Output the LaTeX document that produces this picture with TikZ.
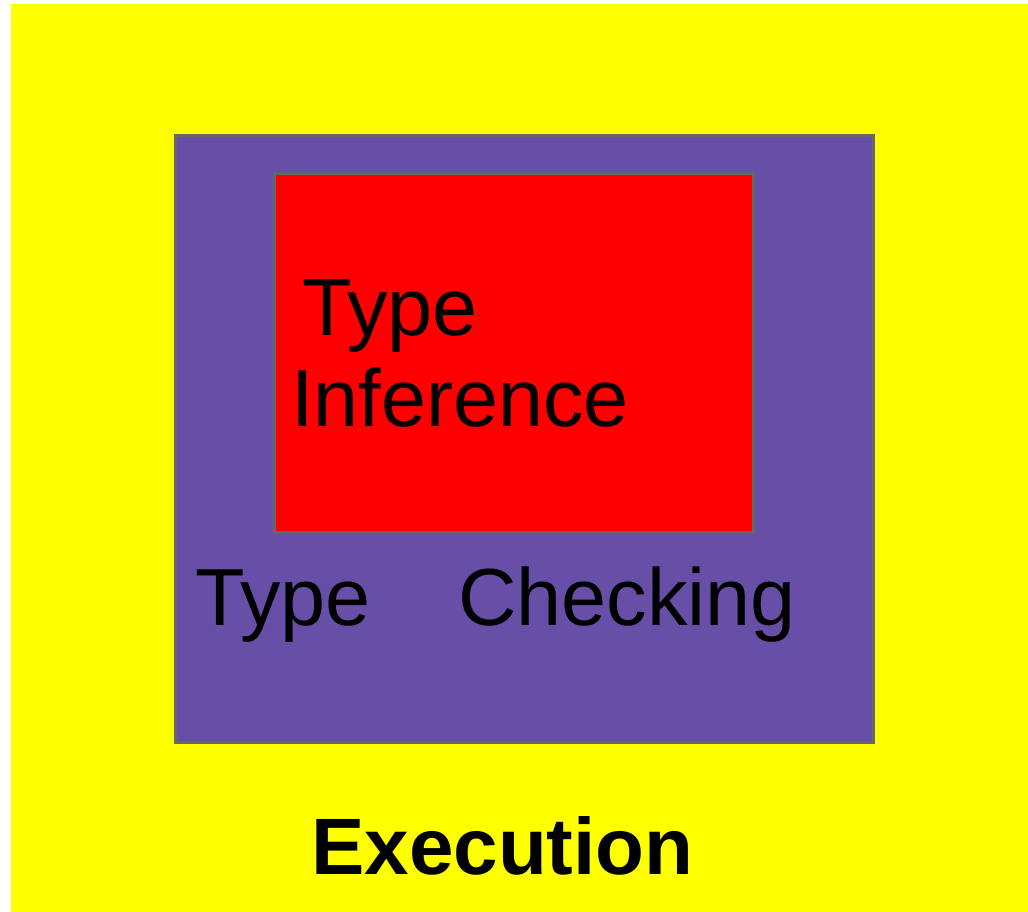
\documentclass[tikz,border=0pt]{standalone}
\usepackage{fontspec}
\setmainfont{Liberation Sans}
\definecolor{execyellow}{HTML}{FFFF00}
\definecolor{checkpurple}{HTML}{674EA7}
\definecolor{infred}{HTML}{FF0000}
\definecolor{edgegray}{HTML}{666666}
\tikzset{
  layer/.style={draw=edgegray, line width=3pt},
  bigtext/.style={anchor=base west, inner sep=0pt, font=\fontsize{81}{97}\selectfont},
  boldtext/.style={anchor=base west, inner sep=0pt, font=\fontsize{80}{96}\selectfont\bfseries}
}
\begin{document}
\begin{tikzpicture}[x=1pt,y=-1pt]
\useasboundingbox (0,0) rectangle (1028,912);
\fill[white] (0,0) rectangle (1028,912);
\fill[execyellow] (11,4) rectangle (1028,912);
\draw[layer, fill=checkpurple] (175,136) rectangle (873,742);
\draw[layer, fill=infred] (274,174) rectangle (753,532);
\node[bigtext] (t1) at (302,335) {Type};
\node[bigtext] (inf) at (291,426) {Inference};
\node[bigtext] (t2) at (195,625) {Type};
\node[bigtext] (chk) at (458,625) {Checking};
\node[boldtext] (exe) at (311,874) {Execution};
\end{tikzpicture}
\end{document}
